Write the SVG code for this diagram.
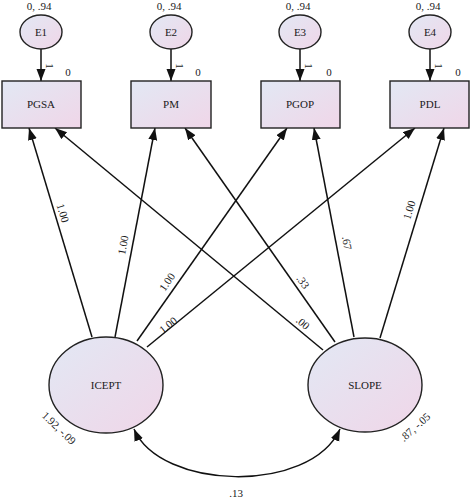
<svg xmlns="http://www.w3.org/2000/svg" width="471" height="500" viewBox="0 0 471 500">
<style>
text{font-family:"Liberation Serif","Times New Roman",serif;font-size:11px;fill:#1a1a1a}
.c{text-anchor:middle}
.n{fill:url(#g);stroke:#222;stroke-width:1.4}
.e{fill:none;stroke:#111;stroke-width:1.5}
</style>
<defs>
<linearGradient id="g" x1="0" y1="0" x2="1" y2="1">
<stop offset="0" stop-color="#e2e8f4"/>
<stop offset="1" stop-color="#f0d6e8"/>
</linearGradient>
<marker id="a" markerUnits="userSpaceOnUse" markerWidth="14" markerHeight="10" refX="12" refY="4.5" orient="auto">
<path d="M0,0 L12,4.5 L0,9 Z" fill="#111"/>
</marker>
<marker id="s" markerUnits="userSpaceOnUse" markerWidth="14" markerHeight="10" refX="12" refY="4.5" orient="auto-start-reverse">
<path d="M0,0 L12,4.5 L0,9 Z" fill="#111"/>
</marker>
</defs>
<g id="connectors">
<line class="e" x1="41" y1="49" x2="41" y2="81" marker-end="url(#a)"/>
<line class="e" x1="171" y1="49" x2="171" y2="81" marker-end="url(#a)"/>
<line class="e" x1="300" y1="49" x2="300" y2="81" marker-end="url(#a)"/>
<line class="e" x1="430" y1="49" x2="430" y2="81" marker-end="url(#a)"/>
<text class="c" transform="translate(50,66) rotate(90)" dy="0.35em">1</text>
<text class="c" transform="translate(180,66) rotate(90)" dy="0.35em">1</text>
<text class="c" transform="translate(309,66) rotate(90)" dy="0.35em">1</text>
<text class="c" transform="translate(439,66) rotate(90)" dy="0.35em">1</text>
<line class="e" x1="92" y1="337" x2="29" y2="128" marker-end="url(#a)"/>
<line class="e" x1="115" y1="337" x2="155" y2="128" marker-end="url(#a)"/>
<line class="e" x1="137" y1="341" x2="287" y2="128" marker-end="url(#a)"/>
<line class="e" x1="147" y1="347" x2="415" y2="128" marker-end="url(#a)"/>
<line class="e" x1="323" y1="350" x2="55" y2="128" marker-end="url(#a)"/>
<line class="e" x1="335" y1="342" x2="185" y2="128" marker-end="url(#a)"/>
<line class="e" x1="354" y1="337" x2="314" y2="128" marker-end="url(#a)"/>
<line class="e" x1="380" y1="338" x2="444" y2="128" marker-end="url(#a)"/>
<path class="e" d="M134,429 C160,490 310,495 340,429" marker-start="url(#s)" marker-end="url(#a)"/>
<text class="c" transform="translate(63,213) rotate(73)" dy="0.35em">1.00</text>
<text class="c" transform="translate(123,245) rotate(-79)" dy="0.35em">1.00</text>
<text class="c" transform="translate(167,282) rotate(-55)" dy="0.35em">1.00</text>
<text class="c" transform="translate(168,325) rotate(-39)" dy="0.35em">1.00</text>
<text class="c" transform="translate(303,323) rotate(40)" dy="0.35em">.00</text>
<text class="c" transform="translate(303,282) rotate(55)" dy="0.35em">.33</text>
<text class="c" transform="translate(347,243) rotate(79)" dy="0.35em">.67</text>
<text class="c" transform="translate(409,210) rotate(-73)" dy="0.35em">1.00</text>
<text class="c" x="236" y="497">.13</text>
</g>
<g id="E1"><ellipse class="n" cx="41" cy="32" rx="21" ry="17"/><text class="c" x="41" y="36">E1</text><text class="c" x="39" y="10">0, .94</text></g>
<g id="E2"><ellipse class="n" cx="171" cy="32" rx="21" ry="17"/><text class="c" x="171" y="36">E2</text><text class="c" x="169" y="10">0, .94</text></g>
<g id="E3"><ellipse class="n" cx="300" cy="32" rx="21" ry="17"/><text class="c" x="300" y="36">E3</text><text class="c" x="298" y="10">0, .94</text></g>
<g id="E4"><ellipse class="n" cx="430" cy="32" rx="21" ry="17"/><text class="c" x="430" y="36">E4</text><text class="c" x="428" y="10">0, .94</text></g>
<g id="PGSA"><rect class="n" x="2" y="81" width="79" height="47"/><text class="c" x="41" y="108">PGSA</text><text class="c" x="68" y="76">0</text></g>
<g id="PM"><rect class="n" x="131" y="81" width="80" height="47"/><text class="c" x="171" y="108">PM</text><text class="c" x="198" y="76">0</text></g>
<g id="PGOP"><rect class="n" x="261" y="81" width="79" height="47"/><text class="c" x="300" y="108">PGOP</text><text class="c" x="329" y="76">0</text></g>
<g id="PDL"><rect class="n" x="390" y="81" width="79" height="47"/><text class="c" x="430" y="108">PDL</text><text class="c" x="458" y="76">0</text></g>
<g id="ICEPT"><ellipse class="n" cx="106" cy="385" rx="57" ry="48"/><text class="c" x="106" y="389">ICEPT</text><text class="c" transform="translate(59,428) rotate(44)" dy="0.35em">1.92, -.09</text></g>
<g id="SLOPE"><ellipse class="n" cx="365" cy="385" rx="57" ry="47"/><text class="c" x="365" y="389">SLOPE</text><text class="c" transform="translate(415,427) rotate(-42)" dy="0.35em">.87, -.05</text></g>
</svg>
